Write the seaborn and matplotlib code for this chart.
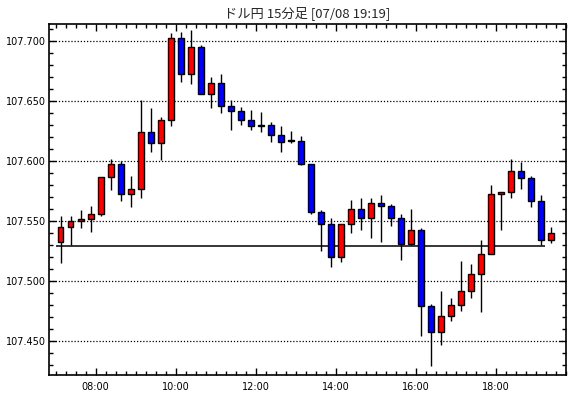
import numpy as np
import pandas as pd
import matplotlib
matplotlib.use("Agg")
import matplotlib.pyplot as plt
from matplotlib.ticker import MultipleLocator, FormatStrFormatter, FixedLocator
import seaborn as sns

# ---- data (USD/JPY 15-minute bars, 07/08) ----
bar_starts = pd.date_range("2019-07-08 07:00", "2019-07-08 19:15", freq="15min")
opens = [107.533, 107.545, 107.550, 107.552, 107.556, 107.587, 107.598, 107.573, 107.577, 107.624,
         107.615, 107.634, 107.703, 107.673, 107.695, 107.656, 107.665, 107.646, 107.642, 107.634,
         107.630, 107.630, 107.622, 107.6175, 107.617, 107.598, 107.558, 107.548, 107.520, 107.548,
         107.560, 107.553, 107.565, 107.563, 107.553, 107.531, 107.543, 107.479, 107.458, 107.471,
         107.480, 107.492, 107.506, 107.523, 107.573, 107.574, 107.592, 107.586, 107.567, 107.534]
highs = [107.554, 107.554, 107.559, 107.563, 107.587, 107.602, 107.600, 107.588, 107.651, 107.644,
         107.637, 107.707, 107.708, 107.709, 107.697, 107.670, 107.673, 107.651, 107.645, 107.643,
         107.641, 107.633, 107.629, 107.625, 107.621, 107.598, 107.559, 107.553, 107.548, 107.568,
         107.569, 107.569, 107.572, 107.564, 107.556, 107.560, 107.544, 107.481, 107.492, 107.486,
         107.517, 107.514, 107.534, 107.580, 107.574, 107.602, 107.599, 107.588, 107.572, 107.545]
lows = [107.515, 107.530, 107.544, 107.541, 107.554, 107.576, 107.567, 107.562, 107.569, 107.608,
        107.601, 107.629, 107.666, 107.664, 107.656, 107.644, 107.640, 107.626, 107.630, 107.626,
        107.624, 107.616, 107.608, 107.615, 107.597, 107.556, 107.525, 107.512, 107.516, 107.540,
        107.543, 107.536, 107.533, 107.546, 107.518, 107.530, 107.454, 107.429, 107.447, 107.467,
        107.475, 107.486, 107.474, 107.523, 107.543, 107.569, 107.577, 107.562, 107.530, 107.532]
closes = [107.545, 107.550, 107.552, 107.556, 107.587, 107.598, 107.573, 107.577, 107.624, 107.615,
          107.634, 107.703, 107.673, 107.695, 107.656, 107.665, 107.646, 107.642, 107.634, 107.629,
          107.629, 107.622, 107.616, 107.617, 107.598, 107.558, 107.548, 107.520, 107.548, 107.560,
          107.553, 107.565, 107.563, 107.553, 107.531, 107.543, 107.479, 107.458, 107.471, 107.480,
          107.492, 107.506, 107.523, 107.573, 107.574, 107.592, 107.586, 107.567, 107.534, 107.540]
ref_price = 107.529
x_tick_labels = ["08:00", "10:00", "12:00", "14:00", "16:00", "18:00"]
title = "ドル円 15分足 [07/08 19:19]"

df = pd.DataFrame({"start": bar_starts, "open": opens, "high": highs,
                   "low": lows, "close": closes})
df["x"] = df["start"].dt.hour + df["start"].dt.minute / 60 + 0.125
df["up"] = df["close"] >= df["open"]

sns.set_style("ticks")
plt.rcParams["font.family"] = ["DejaVu Sans"]

fig = plt.figure(figsize=(5.70, 3.98), dpi=100)
ax = fig.add_axes([49 / 570, 1 - 375 / 398, (566 - 49) / 570, (375 - 24) / 398])
ax.set_facecolor("white")

# grid
ax.set_ylim(107.4219, 107.7144)
ax.set_xlim(6.833, 19.75)
ax.yaxis.set_major_locator(MultipleLocator(0.05))
ax.yaxis.set_minor_locator(MultipleLocator(0.01))
ax.yaxis.set_major_formatter(FormatStrFormatter("%.3f"))
tick_pos = [int(s[:2]) for s in x_tick_labels]
ax.xaxis.set_major_locator(FixedLocator(tick_pos))
ax.set_xticklabels(x_tick_labels)
ax.xaxis.set_minor_locator(MultipleLocator(0.25))
ax.grid(axis="y", which="major", color="black", linestyle=(0, (1, 1.5)), linewidth=0.9)
ax.set_axisbelow(True)

# reference line
ax.hlines(ref_price, df["x"].iloc[0] - 0.125, df["x"].iloc[-2] + 0.11,
          color="black", linewidth=1.1, zorder=2)

# wicks
ax.vlines(df["x"], df["low"], df["high"], color="black", linewidth=1.0, zorder=3)
# bodies
colors = np.where(df["up"], "#FF0000", "#0000FF")
bottoms = np.minimum(df["open"], df["close"])
heights = np.abs(df["close"] - df["open"])
ax.bar(df["x"], heights, bottom=bottoms, width=0.14, color=colors,
       edgecolor="black", linewidth=1.0, zorder=4)

for s in ax.spines.values():
    s.set_visible(True)
    s.set_color("black")
    s.set_linewidth(1.2)

ax.tick_params(which="both", direction="in", top=True, right=True,
               left=True, bottom=True, colors="black", width=1.0)
ax.tick_params(which="major", length=5, labelsize=7)
ax.tick_params(which="minor", length=3)
ax.tick_params(axis="x", which="major", pad=5)
ax.tick_params(axis="y", which="major", pad=2)

fig.text(307.5 / 570, 1 - 13 / 398, title, ha="center", va="center",
         fontsize=9.5, family=["Noto Sans CJK JP", "DejaVu Sans"])

fig.savefig("out.png", dpi=100, facecolor="white")
